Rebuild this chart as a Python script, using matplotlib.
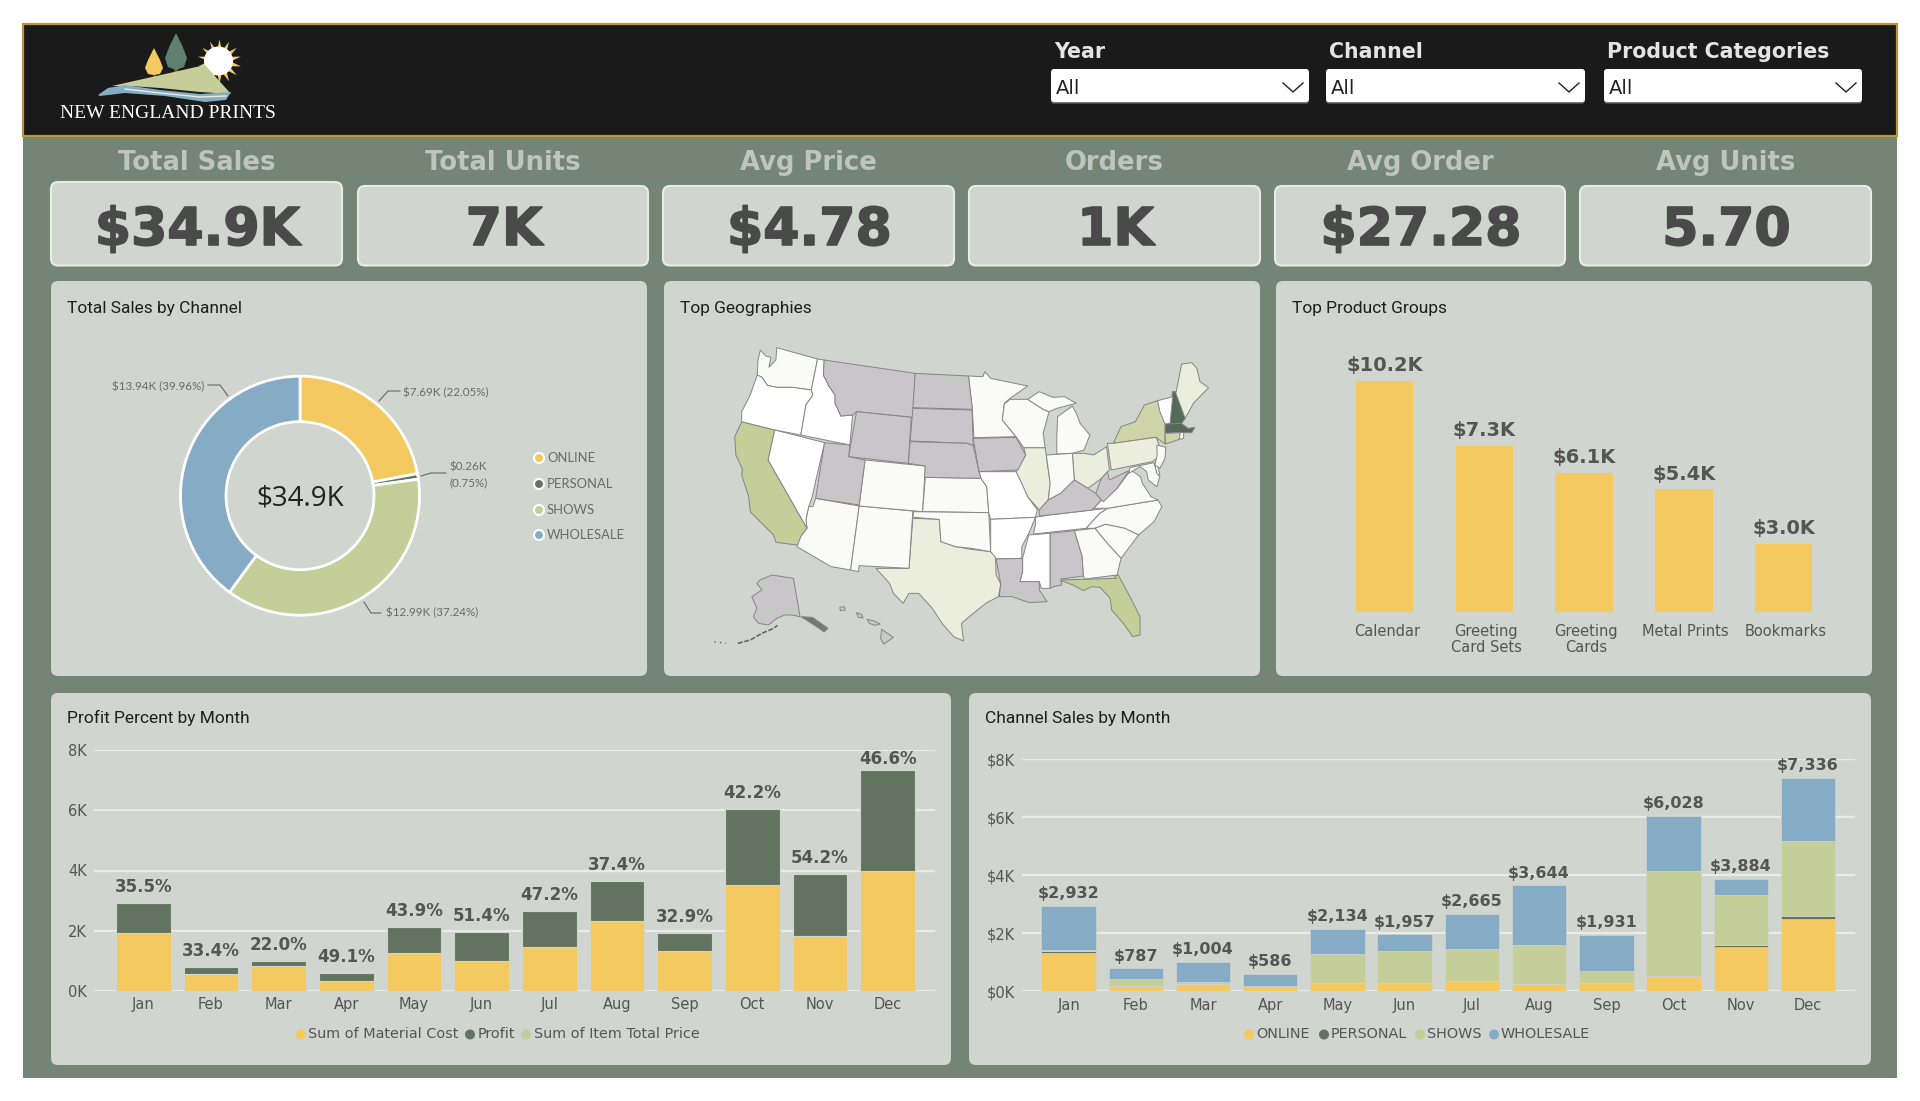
import numpy as np
import matplotlib
matplotlib.use("Agg")
import matplotlib.pyplot as plt
import matplotlib.patheffects as pe
from matplotlib.patches import FancyBboxPatch, Polygon, Circle, Rectangle
from matplotlib.transforms import ScaledTranslation

W, H = 1920, 1101

MONTHS = ["Jan", "Feb", "Mar", "Apr", "May", "Jun", "Jul", "Aug", "Sep", "Oct", "Nov", "Dec"]

KPI_NAMES = ["Total Sales", "Total Units", "Avg Price", "Orders", "Avg Order", "Avg Units"]
KPI_VALUES = ["$34.9K", "7K", "$4.78", "1K", "$27.28", "5.70"]

FILTER_NAMES = ["Year", "Channel", "Product Categories"]

CHANNELS = ["ONLINE", "PERSONAL", "SHOWS", "WHOLESALE"]
CHANNEL_TOTALS = [7690, 260, 12990, 13940]
CHANNEL_PCT = [22.05, 0.75, 37.24, 39.96]

GROUPS = ["Calendar", "Greeting\nCard Sets", "Greeting\nCards", "Metal Prints", "Bookmarks"]
GROUP_SALES = [10.2, 7.34, 6.13, 5.4, 3.0]

MATERIAL = [1940, 560, 840, 330, 1250, 1000, 1450, 2330, 1340, 3520, 1840, 3970]
PROFIT = [992, 227, 164, 256, 884, 957, 1215, 1314, 591, 2508, 2044, 3366]
PROFIT_PCT = [35.5, 33.4, 22.0, 49.1, 43.9, 51.4, 47.2, 37.4, 32.9, 42.2, 54.2, 46.6]

ONLINE = [1320, 170, 260, 180, 300, 300, 340, 260, 300, 540, 1540, 2480]
PERSONAL = [70, 5, 0, 0, 0, 0, 0, 0, 0, 0, 70, 130]
SHOWS = [30, 260, 70, 10, 970, 1090, 1100, 1340, 400, 3600, 1690, 2580]
WHOLESALE = [1512, 352, 674, 396, 864, 567, 1225, 2044, 1231, 1888, 584, 2146]

# state outlines (map units)
STATES = {
    "WA": [(258, 210), (272, 228), (285, 232), (280, 262), (298, 240), (300, 203), (405, 237), (389, 330), (340, 322), (300, 322), (276, 316), (262, 292), (250, 285), (252, 240)],
    "OR": [(250, 285), (262, 292), (276, 316), (300, 322), (340, 322), (389, 330), (393, 345), (375, 375), (370, 410), (362, 465), (295, 450), (210, 425), (210, 395), (232, 345)],
    "CA": [(210, 425), (295, 450), (278, 540), (378, 745), (362, 770), (358, 796), (298, 787), (292, 765), (262, 730), (232, 695), (228, 650), (210, 585), (212, 568), (195, 525), (192, 470)],
    "NV": [(295, 450), (423, 488), (390, 655), (382, 680), (375, 720), (378, 745), (278, 540)],
    "ID": [(405, 237), (422, 240), (420, 285), (435, 320), (450, 345), (450, 370), (465, 408), (495, 405), (488, 495), (362, 465), (370, 410), (375, 375), (393, 345), (389, 330)],
    "MT": [(422, 240), (656, 280), (650, 412), (505, 395), (495, 405), (465, 408), (450, 370), (450, 345), (435, 320), (420, 285)],
    "WY": [(505, 395), (646, 412), (638, 550), (485, 530)],
    "UT": [(423, 488), (488, 495), (485, 530), (527, 540), (512, 675), (400, 655)],
    "CO": [(527, 540), (682, 558), (675, 695), (512, 678)],
    "AZ": [(400, 655), (512, 678), (490, 870), (440, 860), (352, 800), (362, 770), (378, 745), (375, 720), (382, 680), (393, 680)],
    "NM": [(512, 678), (650, 693), (640, 865), (512, 857), (510, 875), (490, 870)],
    "ND": [(656, 280), (793, 288), (803, 388), (650, 383)],
    "SD": [(650, 385), (802, 390), (805, 497), (790, 490), (643, 483)],
    "NE": [(643, 485), (790, 490), (805, 497), (820, 575), (825, 595), (680, 592), (682, 558), (638, 550)],
    "KS": [(682, 592), (825, 595), (840, 620), (845, 698), (675, 695)],
    "OK": [(652, 695), (845, 698), (850, 815), (800, 805), (760, 800), (722, 785), (718, 718), (650, 712)],
    "TX": [(650, 715), (718, 718), (722, 785), (760, 800), (800, 808), (850, 815), (862, 825), (864, 885), (876, 912), (870, 950), (840, 968), (800, 1005), (775, 1030), (780, 1083), (755, 1070), (725, 1030), (700, 985), (665, 940), (640, 940), (625, 970), (600, 940), (590, 910), (555, 865), (640, 865)],
    "MN": [(793, 288), (830, 290), (835, 275), (850, 295), (945, 318), (900, 355), (885, 370), (880, 420), (915, 470), (807, 473), (803, 388)],
    "IA": [(805, 475), (915, 472), (940, 525), (920, 570), (820, 575)],
    "MO": [(820, 575), (915, 575), (930, 610), (945, 650), (970, 690), (965, 712), (850, 718), (845, 698), (840, 620), (825, 595)],
    "AR": [(850, 718), (965, 712), (950, 755), (930, 800), (930, 835), (865, 837), (850, 815)],
    "LA": [(864, 837), (932, 835), (932, 875), (925, 905), (975, 905), (975, 930), (995, 965), (950, 968), (905, 950), (872, 950), (876, 912)],
    "WI": [(885, 372), (900, 358), (945, 358), (985, 388), (1000, 395), (985, 460), (990, 503), (935, 503), (915, 470), (880, 420)],
    "IL": [(935, 503), (990, 503), (1003, 610), (998, 660), (975, 690), (945, 650), (915, 575), (940, 525)],
    "MI": [(1022, 410), (1060, 378), (1070, 400), (1080, 430), (1105, 465), (1090, 510), (1060, 520), (1020, 522), (1020, 470)],
    "MIU": [(945, 358), (975, 335), (1010, 352), (1040, 350), (1070, 370), (1020, 385), (1000, 395), (985, 388)],
    "IN": [(993, 525), (1060, 520), (1065, 600), (1030, 640), (998, 660), (1003, 610)],
    "OH": [(1060, 520), (1090, 520), (1115, 525), (1148, 500), (1155, 570), (1135, 595), (1100, 625), (1065, 600)],
    "KY": [(975, 708), (975, 690), (998, 660), (1030, 640), (1065, 600), (1100, 625), (1120, 640), (1135, 660), (1110, 690), (1000, 705)],
    "TN": [(965, 712), (1000, 705), (1150, 685), (1130, 700), (1095, 745), (960, 762), (965, 735)],
    "MS": [(948, 765), (1003, 760), (1003, 925), (980, 925), (975, 905), (925, 905), (932, 875), (932, 835)],
    "AL": [(1003, 760), (1065, 752), (1085, 830), (1088, 888), (1030, 897), (1033, 915), (1012, 920), (1003, 925)],
    "GA": [(1065, 752), (1118, 745), (1150, 790), (1185, 835), (1175, 885), (1092, 897), (1088, 888), (1085, 830)],
    "FL": [(1026, 900), (1088, 898), (1174, 895), (1167, 888), (1178, 885), (1208, 950), (1234, 1010), (1234, 1065), (1215, 1070), (1191, 1030), (1161, 990), (1157, 955), (1131, 922), (1110, 920), (1088, 932), (1062, 915)],
    "SC": [(1118, 745), (1145, 733), (1195, 745), (1230, 765), (1185, 835), (1150, 790)],
    "NC": [(1095, 745), (1130, 700), (1150, 685), (1280, 660), (1290, 680), (1270, 725), (1230, 765), (1195, 745), (1145, 733), (1118, 745)],
    "VA": [(1115, 685), (1135, 660), (1175, 625), (1210, 570), (1235, 590), (1240, 610), (1262, 650), (1280, 660), (1150, 685)],
    "WV": [(1120, 640), (1135, 595), (1150, 575), (1155, 600), (1205, 572), (1175, 625), (1140, 665), (1135, 660)],
    "PA": [(1150, 490), (1165, 490), (1275, 472), (1283, 495), (1283, 530), (1265, 545), (1160, 570)],
    "NY": [(1165, 490), (1185, 440), (1222, 425), (1245, 375), (1279, 362), (1298, 432), (1298, 492), (1275, 472)],
    "VT": [(1279, 362), (1318, 350), (1311, 430), (1298, 432), (1285, 395)],
    "NH": [(1317, 335), (1328, 335), (1350, 415), (1340, 432), (1298, 435), (1311, 430)],
    "MA": [(1298, 432), (1340, 430), (1358, 445), (1375, 442), (1367, 458), (1337, 458), (1298, 460)],
    "CT": [(1298, 460), (1337, 458), (1335, 478), (1300, 492)],
    "RI": [(1337, 458), (1346, 458), (1346, 475), (1335, 478)],
    "ME": [(1326, 340), (1341, 252), (1367, 248), (1380, 265), (1388, 305), (1410, 323), (1371, 370), (1350, 415)],
    "NJ": [(1277, 495), (1300, 502), (1298, 535), (1285, 565), (1272, 555), (1278, 525)],
    "MD": [(1208, 563), (1270, 548), (1277, 580), (1285, 590), (1277, 620), (1255, 600), (1251, 575), (1234, 560), (1205, 580)],
    "DE": [(1271, 550), (1277, 545), (1285, 585), (1277, 585)],
    "AK": [(257, 900), (287, 885), (343, 895), (360, 1010), (339, 1005), (321, 1005), (300, 1015), (279, 1035), (253, 1030), (240, 1010), (249, 985), (236, 950), (262, 930), (249, 910)],
    "AKS": [(362, 1010), (392, 1012), (432, 1045), (422, 1056), (392, 1032)],
    "HI1": [(570, 1048), (600, 1072), (575, 1092), (567, 1075)],
    "HI2": [(462, 982), (474, 980), (476, 990), (464, 992)],
    "HI3": [(505, 998), (518, 1003), (522, 1014), (510, 1012)],
    "HI4": [(532, 1018), (548, 1022), (566, 1032), (552, 1036), (538, 1030)],
}
# shade of each state on the sales scale
STATE_SHADE = {
    "top": ["NH", "MA"],
    "high": ["CA", "FL"],
    "upper": ["NY", "CT"],
    "mid": ["TX", "ME", "PA", "OH", "IL"],
    "low": ["WA", "AZ", "NM", "MN", "WI", "MI", "MIU", "NC", "SC", "GA", "VA", "IN", "CO", "KS", "OK", "DE", "NJ", "MD"],
    "none": ["OR", "ID", "NV", "MO", "AR", "MS", "TN", "VT", "RI"],
    "nodata": ["MT", "ND", "SD", "NE", "WY", "UT", "IA", "KY", "WV", "AL", "LA", "AK"],
    "panel": ["HI1", "HI2", "HI3", "HI4"],
    "dark": ["AKS"],
}
SHADE_COLORS = {
    "top": "#546B5A", "high": "#C5CD98", "upper": "#CFD5A9", "mid": "#EBEEDC",
    "low": "#FAFBF6", "none": "#FFFFFF", "nodata": "#C9C6C9", "panel": "#C6CBC5", "dark": "#777777",
}

GREEN_BG = "#748575"
PANEL = "#D0D5CF"
YELLOW = "#F3C960"
DARK = "#62745F"
OLIVE = "#C5CD98"
BLUE = "#86ABC4"
TEXT = "#555555"
CH_COLORS = [YELLOW, DARK, OLIVE, BLUE]


def px_axes(fig, x0, y0, x1, y1, **kw):
    """axes from picture pixels (y going down)"""
    return fig.add_axes([x0 / W, 1 - y1 / H, (x1 - x0) / W, (y1 - y0) / H], **kw)


def round_box(ax, x0, y0, x1, y1, face, edge="none", lw=0, r=6, z=1):
    ax.add_patch(FancyBboxPatch((x0 + r, y0 + r), x1 - x0 - 2 * r, y1 - y0 - 2 * r,
                                boxstyle=f"round,pad={r},rounding_size={r}",
                                fc=face, ec=edge, lw=lw, zorder=z))


def dot_legend(ax, items):
    for x, tx, label, color in items:
        ax.add_patch(Circle((x, 1034.5), 5, fc=color, ec="none", zorder=3))
        ax.text(tx, 1034.5, label, fontsize=10.4, color=TEXT, va="center", ha="left", zorder=3)


def style_monthly(ax, ticks, labels):
    ax.set_ylim(0, 8000)
    ax.set_yticks(ticks, labels)
    ax.grid(axis="y", color="#E8EBE6", lw=1.6)
    ax.set_axisbelow(True)
    ax.tick_params(length=0, labelsize=10.5, labelcolor=TEXT)
    ax.tick_params(axis="x", pad=4.5)
    ax.tick_params(axis="y", pad=5)
    ax.patch.set_alpha(0)
    for s in ax.spines.values():
        s.set_visible(False)


fig = plt.figure(figsize=(W / 100, H / 100), dpi=100, facecolor="white")

# ---- page furniture, in pixels
bg = px_axes(fig, 0, 0, W, H)
bg.set_xlim(0, W)
bg.set_ylim(H, 0)
bg.axis("off")
bg.add_patch(Rectangle((23, 136), 1874, 942, fc=GREEN_BG, ec="none"))
bg.add_patch(Rectangle((23, 24), 1874, 112, fc="#1A1A1A", ec="#B8963F", lw=1.6))

# logo
bg.add_patch(Polygon([(154, 48), (160, 60), (163, 68), (160, 74), (154, 75), (148, 74), (145, 68), (148, 60)], fc=YELLOW))
bg.add_patch(Rectangle((153, 75), 2.5, 6, fc="#6B4A35"))
bg.add_patch(Rectangle((174, 68), 4, 7, fc="#6B4A35"))
bg.add_patch(Polygon([(176, 33), (182, 45), (187, 58), (184, 67), (176, 70), (168, 67), (165, 58), (170, 45)], fc="#5F8070"))
bg.scatter([218.5], [61], s=1000, marker=(14, 1, 0), color=YELLOW, lw=0, zorder=2)
bg.add_patch(Circle((218.5, 61), 14.5, fc="white", ec="none", zorder=3))
bg.add_patch(Polygon([(112, 86), (205, 65), (231, 94), (200, 92), (160, 88), (130, 86)], fc=OLIVE, zorder=4))
bg.add_patch(Polygon([(98, 95), (108, 88), (125, 85), (160, 90), (200, 94), (231, 92), (226, 100), (205, 102), (165, 96), (125, 93), (100, 96)], fc=BLUE, zorder=5))
bg.plot([125, 160, 200, 226], [89, 93, 97, 96], color="#E8EDE0", lw=1, zorder=6)
bg.text(168, 113, "NEW ENGLAND PRINTS", family="Liberation Serif", fontsize=14, color="white",
        ha="center", va="center", zorder=6)

# filters
filter_x = [(1051, 1309), (1326, 1585), (1604, 1862)]
for name, (x0, x1) in zip(FILTER_NAMES, filter_x):
    bg.text(x0 + 3, 52, name, fontsize=14.8, fontweight="bold", color="#E4E4E4", va="center")
    round_box(bg, x0, 70, x1, 103.5, "#777777", r=3)
    round_box(bg, x0, 69, x1, 102, "white", r=3, z=2)
    bg.text(x0 + 5, 89, "All", fontsize=14, color="#222222", va="center", zorder=3)
    bg.plot([x1 - 26, x1 - 16, x1 - 6], [83, 92, 83], color="#222222", lw=1, zorder=3)

# KPI cards
kpi_x = [(51, 342), (358, 648), (663, 954), (969, 1260), (1275, 1565), (1580, 1871)]
thick = [pe.withStroke(linewidth=1.2, foreground="#4A4A4A")]
for i, (name, value, (x0, x1)) in enumerate(zip(KPI_NAMES, KPI_VALUES, kpi_x)):
    top = 182 if i == 0 else 186
    xc = (x0 + x1) / 2
    bg.text(xc, 163, name, fontsize=18.6, fontweight="bold", color="#BFC4BD", ha="center", va="center")
    round_box(bg, x0, top, x1, 265.5, PANEL, edge="#E8ECE6", lw=1.5, r=7)
    bg.text(xc + 1, 231, value, fontsize=37.5, fontweight="bold", color="#4A4A4A", ha="center", va="center",
            zorder=3, path_effects=thick)

# panels and titles
panels = [(51, 281, 647, 676, "Total Sales by Channel", 27), (664, 281, 1260, 676, "Top Geographies", 27),
          (1276, 281, 1872, 676, "Top Product Groups", 27), (51, 693, 951, 1065, "Profit Percent by Month", 25),
          (969, 693, 1871, 1065, "Channel Sales by Month", 25)]
for x0, y0, x1, y1, title, dy in panels:
    round_box(bg, x0, y0, x1, y1, PANEL, r=7)
    bg.text(x0 + 16, y0 + dy, title, family="Roboto", fontsize=12.5, color="#1E1E1E", va="center", zorder=3)

# ---- donut
r_out, r_in = 119.5, 74
pad = 1.02
cx, cy = 300, 495.7
ax = px_axes(fig, cx - r_out * pad, cy - r_out * pad, cx + r_out * pad, cy + r_out * pad)
ax.pie(CHANNEL_TOTALS, colors=CH_COLORS, startangle=90, counterclock=False,
       wedgeprops=dict(width=(r_out - r_in) / r_out, edgecolor="white", linewidth=2))
ax.set_xlim(-pad, pad)
ax.set_ylim(-pad, pad)
ax.text(0, -0.02, "$34.9K", family="Open Sans", fontsize=20, color="#222222", ha="center", va="center")

amt = [f"${v / 1000:.2f}K" for v in CHANNEL_TOTALS]
lab_font = dict(family="Lato", fontsize=8.4, color="#6A6A6A", va="center", zorder=3)
bg.text(403, 393, f"{amt[0]} ({CHANNEL_PCT[0]:.2f}%)", ha="left", **lab_font)
bg.text(449, 467, amt[1], ha="left", **lab_font)
bg.text(449, 483, f"({CHANNEL_PCT[1]:.2f}%)", ha="left", **lab_font)
bg.text(386, 613, f"{amt[2]} ({CHANNEL_PCT[2]:.2f}%)", ha="left", **lab_font)
bg.text(204, 387, f"{amt[3]} ({CHANNEL_PCT[3]:.2f}%)", ha="right", **lab_font)
leaders = [([400, 388, 379], [391, 391, 401]), ([446, 431, 421], [473, 473, 476]),
           ([381, 371, 364], [613, 613, 602]), ([208, 220, 228], [385, 385, 396])]
for xs, ys in leaders:
    bg.plot(xs, ys, color="#666666", lw=0.8, zorder=3)
for name, color, y in zip(CHANNELS, CH_COLORS, [458, 484, 510, 535]):
    bg.add_patch(Circle((539, y), 5, fc=color, ec="white", lw=1.5, zorder=3))
    bg.text(547, y, name, family="Lato", fontsize=9.4, color="#6A6A6A", va="center", zorder=3)

# ---- map
mp = px_axes(fig, 660, 280, 1270, 680)
mp.set_xlim(0, 1568)
mp.set_ylim(1200, 0)
mp.axis("off")
for shade, names in STATE_SHADE.items():
    for name in names:
        mp.add_patch(Polygon(STATES[name], closed=True, fc=SHADE_COLORS[shade], ec="#858585", lw=0.7))
# aleutians
mp.plot([200, 232, 262, 292, 302], [1090, 1080, 1060, 1045, 1036], color="#666666", lw=1.2, ls=(0, (3, 1)))
mp.plot([140, 170], [1085, 1090], color="#666666", lw=1, ls=(0, (1, 3)))

# ---- product groups
ax = px_axes(fig, 1336.5, 339, 1836.5, 611.5)
pos = np.arange(len(GROUPS))
step = 99.7
ax.set_xlim((1336.5 - 1384.7) / step, (1836.5 - 1384.7) / step)
ax.set_ylim(0, 272.5 / 22.6)
bars = ax.bar(pos, GROUP_SALES, width=57.5 / step, color=YELLOW)
ax.bar_label(bars, labels=[f"${v:.1f}K" for v in GROUP_SALES], padding=4, fontsize=14,
             fontweight="bold", color=TEXT)
ax.set_xticks(pos, GROUPS, linespacing=1.1)
ax.set_yticks([])
ax.tick_params(axis="x", length=0, labelsize=10.5, labelcolor=TEXT, pad=9)
for lab in ax.get_xticklabels():
    lab.set_transform(lab.get_transform() + ScaledTranslation(2 / 100, 0, fig.dpi_scale_trans))
ax.patch.set_alpha(0)
for s in ax.spines.values():
    s.set_visible(False)

# ---- profit by month
ax = px_axes(fig, 94, 750, 935, 991)
x = np.arange(12)
ax.set_xlim(-0.729, 11.70)
ax.bar(x, MATERIAL, width=0.81, color=YELLOW, edgecolor=PANEL, lw=0.8)
top = ax.bar(x, PROFIT, width=0.81, bottom=MATERIAL, color=DARK, edgecolor=PANEL, lw=0.8)
pct_labels = ax.bar_label(top, labels=[f"{v:.1f}%" for v in PROFIT_PCT], padding=5, fontsize=12,
                          fontweight="bold", color=TEXT)
pct_labels[-1].xyann = (0, 1.5)  # Dec sits tight under the plot top
ax.set_xticks(x, MONTHS)
style_monthly(ax, [0, 2000, 4000, 6000, 8000], ["0K", "2K", "4K", "6K", "8K"])
dot_legend(bg, [(301, 308, "Sum of Material Cost", YELLOW), (470, 478, "Profit", DARK),
                (526, 534, "Sum of Item Total Price", OLIVE)])

# ---- channel by month
ax = px_axes(fig, 1021.6, 759, 1855, 991.3)
ax.set_xlim(-0.70, 11.70)
bottom = np.zeros(12)
for series, color in zip([ONLINE, PERSONAL, SHOWS, WHOLESALE], CH_COLORS):
    top = ax.bar(x, series, width=0.81, bottom=bottom, color=color, edgecolor=PANEL, lw=0.5)
    bottom = bottom + np.array(series)
ax.bar_label(top, labels=[f"${v:,.0f}" for v in bottom], padding=3.5, fontsize=11.5,
             fontweight="bold", color=TEXT)
ax.set_xticks(x, MONTHS)
style_monthly(ax, [0, 2000, 4000, 6000, 8000], ["$0K", "$2K", "$4K", "$6K", "$8K"])
dot_legend(bg, [(1249, 1256, "ONLINE", YELLOW), (1324, 1331, "PERSONAL", DARK),
                (1420, 1427, "SHOWS", OLIVE), (1494, 1501, "WHOLESALE", BLUE)])

fig.savefig("out.png", dpi=100)
